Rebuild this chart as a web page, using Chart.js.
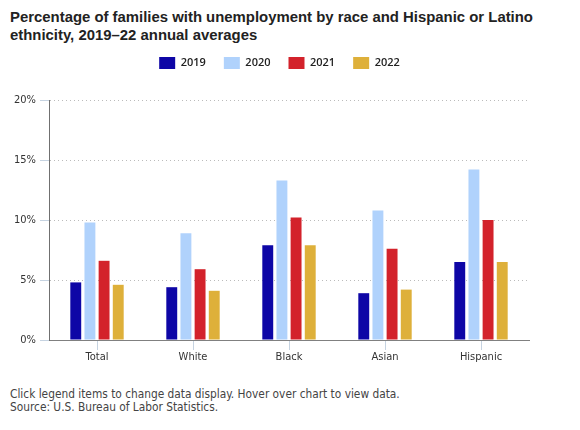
<!DOCTYPE html>
<html>
<head>
<meta charset="utf-8">
<script src="https://cdn.jsdelivr.net/npm/chart.js@4.4.0/dist/chart.umd.min.js"></script>
<style>
  html, body { margin: 0; padding: 0; background: #fff; }
  #wrap { position: relative; width: 580px; height: 430px; overflow: hidden; }
  #title {
    position: absolute; left: 10px; top: 8px; width: 560px;
    font: bold 14.9px "Liberation Sans", Arial, sans-serif; line-height: 18px; color: #222;
  }
  #box { position: absolute; left: 0; top: 39px; width: 580px; height: 341px; }
  #note {
    position: absolute; left: 10px; top: 388px;
    font: 11.8px "DejaVu Sans Condensed", "DejaVu Sans", sans-serif; line-height: 13px; color: #444;
  }
</style>
</head>
<body>
<div id="wrap">
  <div id="title">Percentage of families with unemployment by race and Hispanic or Latino<br>ethnicity, 2019–22 annual averages</div>
  <div id="box"><canvas id="chart"></canvas></div>
  <div id="note">Click legend items to change data display. Hover over chart to view data.<br>Source: U.S. Bureau of Labor Statistics.</div>
</div>
<script>
  // Chart data (percent of families with an unemployed member)
  const categories = ['Total', 'White', 'Black', 'Asian', 'Hispanic'];
  const seriesNames = ['2019', '2020', '2021', '2022'];
  const values2019 = [4.8, 4.4, 7.9, 3.9, 6.5];
  const values2020 = [9.8, 8.9, 13.3, 10.8, 14.2];
  const values2021 = [6.6, 5.9, 10.2, 7.6, 10.0];
  const values2022 = [4.6, 4.1, 7.9, 4.2, 6.5];
  const yTicks = [0, 5, 10, 15, 20];

  const seriesColors = ['#0e06a6', '#b0d2fc', '#d3222b', '#deb03a'];
  const seriesValues = [values2019, values2020, values2021, values2022];
  const tickFont = { family: '"DejaVu Sans Condensed", "DejaVu Sans", sans-serif', size: 11 };

  // legend: reserve room above the plot and nudge it a bit to the right
  const legendSpace = {
    id: 'legendSpace',
    beforeInit(chart) {
      const fit = chart.legend.fit;
      chart.legend.fit = function() {
        fit.bind(chart.legend)();
        this.height = 61;
      };
    },
    afterLayout(chart) {
      chart.legend.left += 15;
      chart.legend.right += 15;
    }
  };

  const ctx = document.getElementById('chart').getContext('2d');

  new Chart(ctx, {
    type: 'bar',
    data: {
      labels: categories,
      datasets: seriesNames.map((name, i) => ({
        label: name,
        data: seriesValues[i],
        backgroundColor: seriesColors[i],
        borderWidth: 0,
        categoryPercentage: 0.59,
        barPercentage: 0.77
      }))
    },
    options: {
      responsive: true,
      maintainAspectRatio: false,
      animation: false,
      layout: { padding: { left: 0, right: 51, top: 0, bottom: 0 } },
      plugins: {
        legend: {
          position: 'top',
          labels: {
            boxWidth: 16,
            boxHeight: 12,
            padding: 18,
            color: '#222',
            font: { family: '"Open Sans", sans-serif', size: 11, weight: '600' }
          }
        },
        tooltip: {
          callbacks: {
            label: (c) => c.dataset.label + ': ' + c.parsed.y.toFixed(1) + '%'
          }
        }
      },
      scales: {
        x: {
          afterFit: (s) => { s.height = 40; },
          grid: {
            display: true,
            offset: false,
            drawOnChartArea: false,
            drawTicks: true,
            tickLength: 10,
            color: '#c6d3e1'
          },
          border: { display: true, color: '#808080', width: 1 },
          ticks: { padding: 1, color: '#333', font: tickFont }
        },
        y: {
          min: 0,
          max: 20,
          afterFit: (s) => { s.width = 49; },
          afterBuildTicks: (s) => { s.ticks = yTicks.map(v => ({ value: v })); },
          grid: {
            color: (c) => c.tick && c.tick.value === 0 ? 'rgba(0,0,0,0)' : '#bbb',
            tickColor: '#c6d3e1',
            tickLength: 9,
            tickBorderDash: [],
            lineWidth: 1
          },
          // border.dash styles the grid lines (dotted)
          border: { display: true, color: '#707070', width: 1, dash: [1, 3] },
          ticks: {
            padding: 4,
            color: '#333',
            font: tickFont,
            callback: (v) => v + '%'
          }
        }
      }
    },
    plugins: [legendSpace]
  });
</script>
</body>
</html>
